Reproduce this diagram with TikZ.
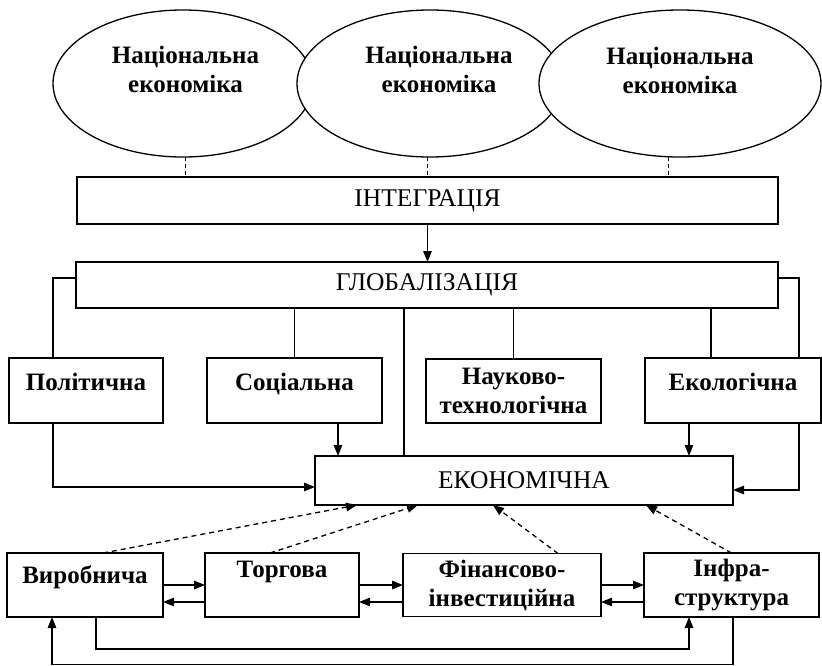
\documentclass[tikz,border=0pt]{standalone}
\usepackage{fontspec}
\setmainfont{Liberation Serif}
\usetikzlibrary{shapes.geometric,arrows.meta,calc}
\begin{document}
\begin{tikzpicture}[x=1pt,y=-1pt,
  every node/.style={inner sep=0pt, outer sep=0pt},
  eli/.style={draw, fill=white, ellipse, line width=1.3pt, minimum height=147pt},
  bigtxt/.style={font=\fontsize{25}{29}\selectfont\bfseries, align=center},
  wide/.style={draw, rectangle, line width=1.4pt, font=\fontsize{25.5}{29}\selectfont},
  box/.style={draw, rectangle, line width=1.4pt, font=\fontsize{25}{29}\selectfont\bfseries, align=center},
  boxone/.style={draw, rectangle, line width=1.4pt, font=\fontsize{25}{29}\selectfont\bfseries, text height=16.5pt, text depth=#1},
  con/.style={line width=1.3pt},
  arr/.style={con, -{Triangle[length=11pt,width=8.5pt]}},
  darr/.style={con, dash pattern=on 5pt off 4pt, -{Triangle[length=11pt,width=8.5pt]}},
  dline/.style={line width=1pt, dash pattern=on 4pt off 3pt},
]
\useasboundingbox (0,0) rectangle (822,665);
\fill[white] (0,0) rectangle (822,665);

% ellipses
\node[eli, minimum width=260pt] (n1) at (183,83.5) {};
\node[eli, minimum width=266pt] (n2) at (430,83.5) {};
\node[eli, minimum width=282pt] (n3) at (680,83.5) {};
\node[bigtxt] (t1) at (185.5,69) {Національна\\економіка};
\node[bigtxt] (t2) at (439,69) {Національна\\економіка};
\node[bigtxt] (t3) at (680,70) {Національна\\економіка};

% boxes
\node[wide, minimum width=701pt, minimum height=47pt] (integr) at (427.5,200.5) {ІНТЕГРАЦІЯ};
\node[wide, minimum width=702pt, minimum height=46pt] (glob) at (427,285) {ГЛОБАЛІЗАЦІЯ};
\node[boxone=17pt, minimum width=154pt, minimum height=65pt] (pol) at (86,390.5) {Політична};
\node[boxone=17pt, minimum width=175pt, minimum height=65pt] (soc) at (294.5,390.5) {Соціальна};
\node[box, minimum width=175pt, minimum height=64pt] (nauk) at (513.5,391) {Науково-\\технологічна};
\node[boxone=17pt, minimum width=176pt, minimum height=65pt] (eco) at (733,390.5) {Екологічна};
\node[wide, minimum width=418pt, minimum height=49pt] (econ) at (524,480.5) {ЕКОНОМІЧНА};
\node[boxone=19pt, minimum width=156pt, minimum height=64pt] (vyr) at (85,585) {Виробнича};
\node[boxone=31pt, minimum width=154pt, minimum height=64pt] (torg) at (282,585) {Торгова};
\node[box, minimum width=198pt, minimum height=63pt] (fin) at (502,585) {Фінансово-\\інвестиційна};
\node[box, minimum width=175pt, minimum height=64pt] (infra) at (731.5,585) {Інфра-\\структура};

% dashed links ellipses -> integration
\draw[dline] (n1.-88.4) -- (n1.-88.4 |- integr.north);
\draw[dline] (n2.-92.4) -- (n2.-92.4 |- integr.north);
\draw[dline] (n3.-99.5) -- (n3.-99.5 |- integr.north);

\draw[arr] (integr.south) -- (integr.south |- glob.north);

% globalisation links
\coordinate (gW) at ([yshift=7pt]glob.west);
\coordinate (gE) at ([yshift=7pt]glob.east);
\coordinate (pT) at ([xshift=-33pt]pol.north);
\coordinate (eT) at ([xshift=66pt]eco.north);
\coordinate (eT2) at ([xshift=-22pt]eco.north);
\coordinate (cT) at ([xshift=-120pt]econ.north);
\draw[con] (gW) -| (pT);
\draw[con] (gE) -| (eT);
\draw[con] (soc.north |- glob.south) -- (soc.north);
\draw[con] (nauk.north |- glob.south) -- (nauk.north);
\draw[con] (eT2 |- glob.south) -- (eT2);
\draw[con] (cT |- glob.south) -- (cT);

% into economic
\coordinate (pB) at ([xshift=-33pt]pol.south);
\coordinate (eL) at ([yshift=-6.5pt]econ.west);
\coordinate (eB) at ([xshift=66pt]eco.south);
\coordinate (eR) at ([yshift=-9.5pt]econ.east);
\coordinate (sB) at ([xshift=43.5pt]soc.south);
\coordinate (eB2) at ([xshift=-44pt]eco.south);
\draw[arr] (pB) |- (eL);
\draw[arr] (eB) |- (eR);
\draw[arr] (sB) -- (sB |- econ.north);
\draw[arr] (eB2) -- (eB2 |- econ.north);

% dashed arrows from bottom row
\coordinate (d1s) at ([xshift=18pt]vyr.north);
\coordinate (d1e) at ([xshift=-167pt]econ.south);
\coordinate (d2s) at ([xshift=-12pt]torg.north);
\coordinate (d2e) at ([xshift=-106pt]econ.south);
\coordinate (d3s) at ([xshift=56pt]fin.north);
\coordinate (d3e) at ([xshift=-31pt]econ.south);
\coordinate (d4e) at ([xshift=122pt]econ.south);
\draw[darr] (d1s) -- (d1e);
\draw[darr] (d2s) -- (d2e);
\draw[darr] (d3s) -- (d3e);
\draw[darr] (infra.north) -- (d4e);

% bottom row pairs
\draw[arr] (vyr.east) -- (torg.west);
\draw[arr] ([yshift=-17pt]torg.west) -- ([yshift=-17pt]vyr.east);
\draw[arr] (torg.east) -- (fin.west);
\draw[arr] ([yshift=-17pt]fin.west) -- ([yshift=-17pt]torg.east);
\draw[arr] (fin.east) -- (infra.west);
\draw[arr] ([yshift=-17pt]infra.west) -- ([yshift=-17pt]fin.east);

% bottom loops
\coordinate (lowA) at (0,649);
\coordinate (lowB) at (0,664.5);
\coordinate (vA) at ([xshift=11pt]vyr.south);
\coordinate (iA) at ([xshift=-42.5pt]infra.south);
\coordinate (vB) at ([xshift=-33pt]vyr.south);
\coordinate (iB) at ([xshift=1.5pt]infra.south);
\draw[arr] (vA) -- (vA |- lowA) -| (iA);
\draw[arr] (iB) -- (iB |- lowB) -| (vB);
\end{tikzpicture}
\end{document}
